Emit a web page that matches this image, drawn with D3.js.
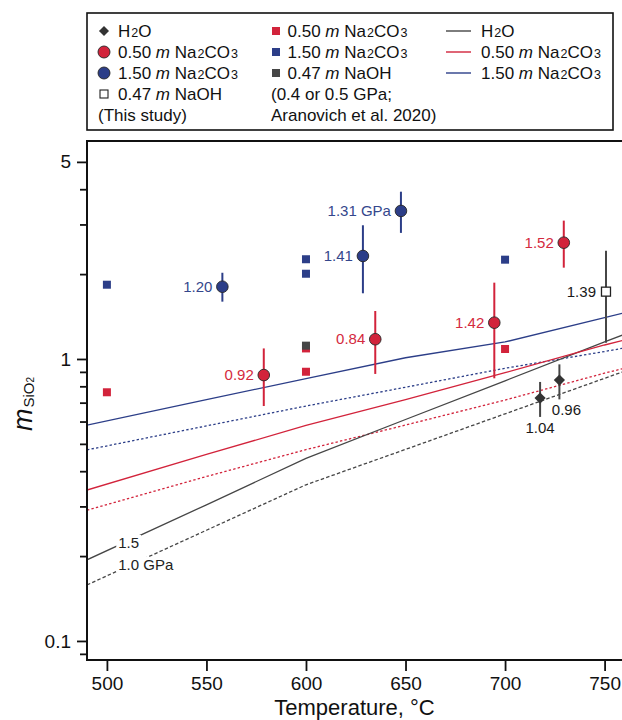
<!DOCTYPE html>
<html>
<head>
<meta charset="utf-8">
<script src="https://cdn.jsdelivr.net/npm/d3@7"></script>
<style>
  body { margin: 0; background: #fff; }
  svg { display: block; font-family: "Liberation Sans", Arial, Helvetica, sans-serif; }
  text { white-space: pre; }
</style>
</head>
<body>
<svg id="chart" width="622" height="720"></svg>
<script>
// data

// this study: T (C), m SiO2, error bar low/high, pressure label (GPa)
var h2oStudy = [
  {t: 717.6, m: 0.727, lo: 0.623, hi: 0.829, p: "1.04"},
  {t: 727.3, m: 0.842, lo: 0.719, hi: 0.957, p: "0.96"}
];
var na05Study = [
  {t: 578.8, m: 0.877, lo: 0.681, hi: 1.09, p: "0.92"},
  {t: 634.8, m: 1.175, lo: 0.885, hi: 1.48, p: "0.84"},
  {t: 694.6, m: 1.345, lo: 0.854, hi: 1.865, p: "1.42"},
  {t: 729.5, m: 2.585, lo: 2.108, hi: 3.095, p: "1.52"}
];
var na15Study = [
  {t: 558, m: 1.804, lo: 1.597, hi: 2.022, p: "1.20"},
  {t: 628.6, m: 2.319, lo: 1.71, hi: 2.98, p: "1.41"},
  {t: 647.7, m: 3.35, lo: 2.80, hi: 3.92, p: "1.31 GPa"}
];
var naohStudy = [
  {t: 750.7, m: 1.733, lo: 1.142, hi: 2.42, p: "1.39"}
];

// Aranovich et al. 2020 (0.4 or 0.5 GPa)
var na05Aran = [{t: 500, m: 0.762}, {t: 600, m: 0.901}, {t: 600, m: 1.09}, {t: 700, m: 1.085}];
var na15Aran = [{t: 500, m: 1.834}, {t: 600, m: 2.258}, {t: 600, m: 2.006}, {t: 700, m: 2.25}];
var naohAran = [{t: 600, m: 1.115}];

// model curves, 1.5 GPa (solid) and 1.0 GPa (dotted)
var modelT   = [490, 550, 600, 650, 700, 750, 760];
var h2o15    = [0.194, 0.304, 0.444, 0.610, 0.837, 1.149, 1.224];
var h2o10    = [0.158, 0.247, 0.358, 0.478, 0.639, 0.854, 0.905];
var na05_15  = [0.343, 0.459, 0.581, 0.717, 0.894, 1.121, 1.168];
var na05_10  = [0.291, 0.383, 0.477, 0.583, 0.715, 0.891, 0.927];
var na15_15  = [0.583, 0.717, 0.852, 1.01, 1.149, 1.401, 1.459];
var na15_10  = [0.476, 0.579, 0.681, 0.794, 0.927, 1.063, 1.094];

var xTicks = [500, 550, 600, 650, 700, 750];
var yMajor = [0.1, 1, 5];
var yMinor = [0.09, 0.2, 0.3, 0.4, 0.5, 0.6, 0.7, 0.8, 0.9, 2, 3, 4];

var legendStudy = ["H2O", "0.50 m Na2CO3", "1.50 m Na2CO3", "0.47 m NaOH", "(This study)"];
var legendAran  = ["0.50 m Na2CO3", "1.50 m Na2CO3", "0.47 m NaOH", "(0.4 or 0.5 GPa;", "Aranovich et al. 2020)"];
var legendModel = ["H2O", "0.50 m Na2CO3", "1.50 m Na2CO3"];

var RED = "#d2233b", BLUE = "#2c3e88", GREY = "#464646";

const svg = d3.select("#chart");
const pLeft = 87, pRight = 624.5, pTop = 141, pBottom = 660;

const x = d3.scaleLinear().domain([490, 760]).range([pLeft, pRight]);
const y = d3.scaleLog().domain([0.0856, 5.93]).range([pBottom, pTop]);

// text with italic m and subscript digits
function addRich(sel, str, subSize) {
  var tokens = [];
  for (var i = 0; i < str.length; i++) {
    var c = str[i];
    if (c === "m" && (i === 0 || str[i-1] === " ") && (i + 1 === str.length || str[i+1] === " ")) {
      tokens.push({s: c, k: "i"});
    } else if (/\d/.test(c) && i > 0 && /[A-Za-z]/.test(str[i-1])) {
      tokens.push({s: c, k: "sub"});
    } else {
      var last = tokens[tokens.length - 1];
      if (last && last.k === "n") last.s += c; else tokens.push({s: c, k: "n"});
    }
  }
  tokens.forEach(function(tk) {
    var ts = sel.append("tspan").text(tk.s);
    if (tk.k === "i") ts.style("font-style", "italic");
    if (tk.k === "sub") ts.attr("font-size", subSize).attr("dx", 1);
  });
}

svg.append("defs").append("clipPath").attr("id", "plotclip")
  .append("rect").attr("x", pLeft).attr("y", pTop).attr("width", pRight - pLeft).attr("height", pBottom - pTop);

// model lines
const line = d3.line().x(d => x(d[0])).y(d => y(d[1]));
const models = [
  {v: h2o10, c: GREY, dash: "3.5,2.2"},
  {v: na05_10, c: RED, dash: "2.4,2.2"},
  {v: na15_10, c: BLUE, dash: "2.4,2.2"},
  {v: h2o15, c: GREY, dash: null},
  {v: na05_15, c: RED, dash: null},
  {v: na15_15, c: BLUE, dash: null}
];
const gLines = svg.append("g").attr("clip-path", "url(#plotclip)");
models.forEach(function(md) {
  gLines.append("path")
    .datum(modelT.map((t, i) => [t, md.v[i]]))
    .attr("d", line)
    .attr("fill", "none")
    .attr("stroke", md.c)
    .attr("stroke-width", 1.3)
    .attr("stroke-dasharray", md.dash);
});

// pressure labels on the H2O curves, white box cuts the line
[["1.5", 0.2137], ["1.0 GPa", 0.1786]].forEach(function(l) {
  var g = svg.append("g");
  var bg = g.append("rect").attr("fill", "#fff");
  var t = g.append("text")
    .attr("x", x(505.7)).attr("y", y(l[1]))
    .attr("font-size", 15).attr("fill", "#222")
    .text(l[0]);
  var b = t.node().getBBox();
  bg.attr("x", b.x - 2).attr("y", b.y + 1).attr("width", b.width + 4).attr("height", b.height - 2);
});

// axes
const gx = svg.append("g").attr("transform", `translate(0,${pBottom})`)
  .call(d3.axisBottom(x).tickValues(xTicks).tickSize(11).tickPadding(5.8).tickSizeOuter(0));
const gyMinor = svg.append("g").attr("transform", `translate(${pLeft},0)`)
  .call(d3.axisLeft(y).tickValues(yMinor).tickSize(7).tickFormat("").tickSizeOuter(0));
const gy = svg.append("g").attr("transform", `translate(${pLeft},0)`)
  .call(d3.axisLeft(y).tickValues(yMajor).tickSize(10).tickPadding(6).tickFormat(d3.format("")).tickSizeOuter(0));
[gx, gy, gyMinor].forEach(function(g) {
  g.select(".domain").remove();
  g.selectAll(".tick line").attr("stroke", "#111").attr("stroke-width", 1.8);
  g.selectAll(".tick text").attr("font-size", 19).attr("fill", "#111")
    .style("font-family", "'Liberation Sans', Arial, sans-serif");
});

// frame: left, bottom, top
svg.append("path")
  .attr("d", `M${pRight + 5},${pTop}H${pLeft}V${pBottom}H${pRight + 5}`)
  .attr("fill", "none").attr("stroke", "#111").attr("stroke-width", 2);

// Aranovich squares
function squares(data, col) {
  svg.append("g").selectAll("rect").data(data).enter().append("rect")
    .attr("x", d => x(d.t) - 4).attr("y", d => y(d.m) - 4)
    .attr("width", 8).attr("height", 8)
    .attr("fill", col);
}
squares(na05Aran, RED);
squares(na15Aran, BLUE);
squares(naohAran, GREY);

// this study: error bars, markers, labels
function errbars(data, col) {
  svg.append("g").selectAll("line").data(data).enter().append("line")
    .attr("x1", d => x(d.t)).attr("x2", d => x(d.t))
    .attr("y1", d => y(d.lo)).attr("y2", d => y(d.hi))
    .attr("stroke", col).attr("stroke-width", 2);
}
errbars(h2oStudy, GREY);
errbars(na05Study, RED);
errbars(na15Study, BLUE);
errbars(naohStudy, GREY);

function circles(data, col) {
  svg.append("g").selectAll("circle").data(data).enter().append("circle")
    .attr("cx", d => x(d.t)).attr("cy", d => y(d.m)).attr("r", 5.8)
    .attr("fill", col).attr("stroke", "#262626").attr("stroke-width", 0.9);
}
circles(na05Study, RED);
circles(na15Study, BLUE);

const diamond = "M0,-5.6L5.6,0L0,5.6L-5.6,0Z";
svg.append("g").selectAll("path").data(h2oStudy).enter().append("path")
  .attr("d", diamond)
  .attr("transform", d => `translate(${x(d.t)},${y(d.m)})`)
  .attr("fill", "#333");

svg.append("g").selectAll("rect").data(naohStudy).enter().append("rect")
  .attr("x", d => x(d.t) - 4.5).attr("y", d => y(d.m) - 4.5)
  .attr("width", 9).attr("height", 9)
  .attr("fill", "#fff").attr("stroke", "#222").attr("stroke-width", 1.3);

function leftLabels(data, col) {
  svg.append("g").selectAll("text").data(data).enter().append("text")
    .attr("x", d => x(d.t) - 10).attr("y", d => y(d.m)).attr("dy", "0.35em")
    .attr("text-anchor", "end").attr("font-size", 15).attr("fill", col)
    .text(d => d.p);
}
leftLabels(na05Study, "#d42a40");
leftLabels(na15Study, "#34478c");
leftLabels(naohStudy, "#1a1a1a");

// H2O labels go under the points
svg.append("g").selectAll("text").data(h2oStudy).enter().append("text")
  .attr("x", (d, i) => x(d.t) + (i === 1 ? 7 : 0))
  .attr("y", d => y(d.m) + 30).attr("dy", "0.35em")
  .attr("text-anchor", "middle").attr("font-size", 15).attr("fill", "#1a1a1a")
  .text(d => d.p);

// axis titles
svg.append("text")
  .attr("x", (pLeft + 622) / 2).attr("y", 715.3)
  .attr("text-anchor", "middle").attr("font-size", 22).attr("fill", "#111")
  .text("Temperature, \u00b0C");

const yt = svg.append("text")
  .attr("transform", "translate(32,404) rotate(-90)")
  .attr("text-anchor", "middle").attr("fill", "#111");
yt.append("tspan").attr("font-size", 27).style("font-style", "italic").text("m");
yt.append("tspan").attr("font-size", 15).attr("dy", 2).attr("dx", 1).text("SiO");
yt.append("tspan").attr("font-size", 10).text("2");

// legend
const lg = svg.append("g");
lg.append("rect").attr("x", 87).attr("y", 13).attr("width", 526).attr("height", 117)
  .attr("fill", "#fff").attr("stroke", "#111").attr("stroke-width", 1.6);

const rowY = i => 31 + 21 * i;

// column 1: this study
lg.append("path").attr("d", diamond).attr("transform", `translate(104,${rowY(0)}) scale(0.9)`).attr("fill", "#333");
lg.append("circle").attr("cx", 104).attr("cy", rowY(1)).attr("r", 6).attr("fill", RED).attr("stroke", "#262626").attr("stroke-width", 0.9);
lg.append("circle").attr("cx", 104).attr("cy", rowY(2)).attr("r", 6).attr("fill", BLUE).attr("stroke", "#262626").attr("stroke-width", 0.9);
lg.append("rect").attr("x", 100).attr("y", rowY(3) - 4).attr("width", 8).attr("height", 8)
  .attr("fill", "#fff").attr("stroke", "#222").attr("stroke-width", 1.1);
legendStudy.forEach(function(s, i) {
  var t = lg.append("text").attr("x", i < 4 ? 118 : 98).attr("y", rowY(i) + 6)
    .attr("font-size", 17).attr("fill", "#111");
  addRich(t, s, 12.5);
});

// column 2: Aranovich
[RED, BLUE, GREY].forEach(function(c, i) {
  lg.append("rect").attr("x", 272).attr("y", rowY(i) - 4).attr("width", 8).attr("height", 8).attr("fill", c);
});
legendAran.forEach(function(s, i) {
  var t = lg.append("text").attr("x", i < 3 ? 287.5 : 271).attr("y", rowY(i) + 6)
    .attr("font-size", 17).attr("fill", "#111");
  addRich(t, s, 12.5);
});

// column 3: model lines
[GREY, RED, BLUE].forEach(function(c, i) {
  lg.append("line").attr("x1", 446).attr("x2", 471).attr("y1", rowY(i)).attr("y2", rowY(i))
    .attr("stroke", c).attr("stroke-width", 1.4);
});
legendModel.forEach(function(s, i) {
  var t = lg.append("text").attr("x", 481).attr("y", rowY(i) + 6)
    .attr("font-size", 17).attr("fill", "#111");
  addRich(t, s, 12.5);
});
</script>
</body>
</html>
